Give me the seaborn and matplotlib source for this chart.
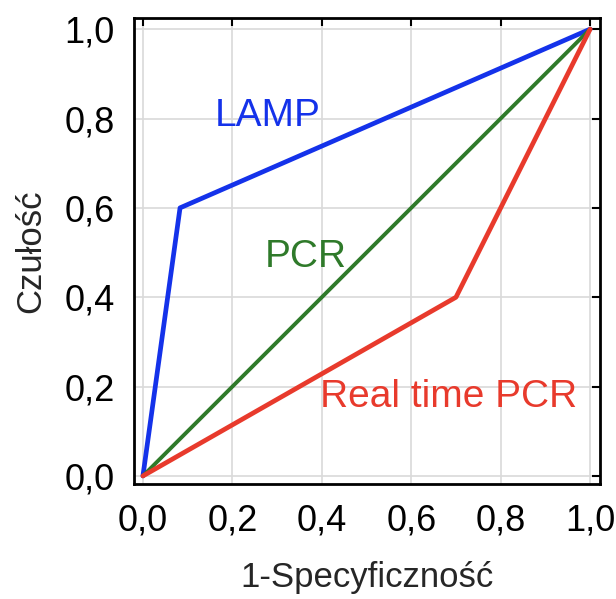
import matplotlib
matplotlib.use("Agg")
import matplotlib.pyplot as plt
import seaborn as sns
import pandas as pd

# ROC curve points (1-specificity, sensitivity)
lamp_x = [0.0, 0.083, 1.0]
lamp_y = [0.0, 0.6, 1.0]
pcr_x = [0.0, 1.0]
pcr_y = [0.0, 1.0]
rt_x = [0.0, 0.7, 1.0]
rt_y = [0.0, 0.4, 1.0]

ticks = [0.0, 0.2, 0.4, 0.6, 0.8, 1.0]
tick_labels = ["0,0", "0,2", "0,4", "0,6", "0,8", "1,0"]

sns.set_style("white")
plt.rcParams["font.family"] = ["Liberation Sans", "DejaVu Sans"]

fig = plt.figure(figsize=(6.16, 5.99), dpi=100)
ax = fig.add_axes([0.2175, 0.192, 0.7565, 0.778])

blue = "#1432ea"
green = "#2f7a2a"
red = "#e83a2c"

lamp = pd.DataFrame({"x": lamp_x, "y": lamp_y})
pcr = pd.DataFrame({"x": pcr_x, "y": pcr_y})
rt = pd.DataFrame({"x": rt_x, "y": rt_y})

sns.lineplot(data=lamp, x="x", y="y", color=blue, lw=3.4, sort=False, ax=ax)
sns.lineplot(data=pcr, x="x", y="y", color=green, lw=2.8, sort=False, ax=ax)
sns.lineplot(data=rt, x="x", y="y", color=red, lw=3.4, sort=False, ax=ax)

ax.text(0.161, 0.805, "LAMP", color=blue, fontsize=28, va="center", ha="left")
ax.text(0.273, 0.49, "PCR", color=green, fontsize=28, va="center", ha="left")
ax.text(0.396, 0.177, "Real time PCR", color=red, fontsize=28, va="center", ha="left")

ax.set_xlim(-0.02, 1.022)
ax.set_ylim(-0.018, 1.025)
ax.set_xticks(ticks)
ax.set_xticklabels(tick_labels)
ax.set_yticks(ticks)
ax.set_yticklabels(tick_labels)
ax.grid(True, color="#d9d9d9", lw=1.2)
ax.tick_params(direction="in", length=6, width=1.5, labelsize=26, pad=14,
               top=True, right=True, colors="black")
ax.tick_params(axis="x", pad=14)
for s in ax.spines.values():
    s.set_color("black")
    s.set_linewidth(2)

ax.set_xlabel("1-Specyficzność", fontsize=25, labelpad=16)
ax.set_ylabel("Czułość", fontsize=25, labelpad=12)

fig.savefig("out.png", dpi=100)
